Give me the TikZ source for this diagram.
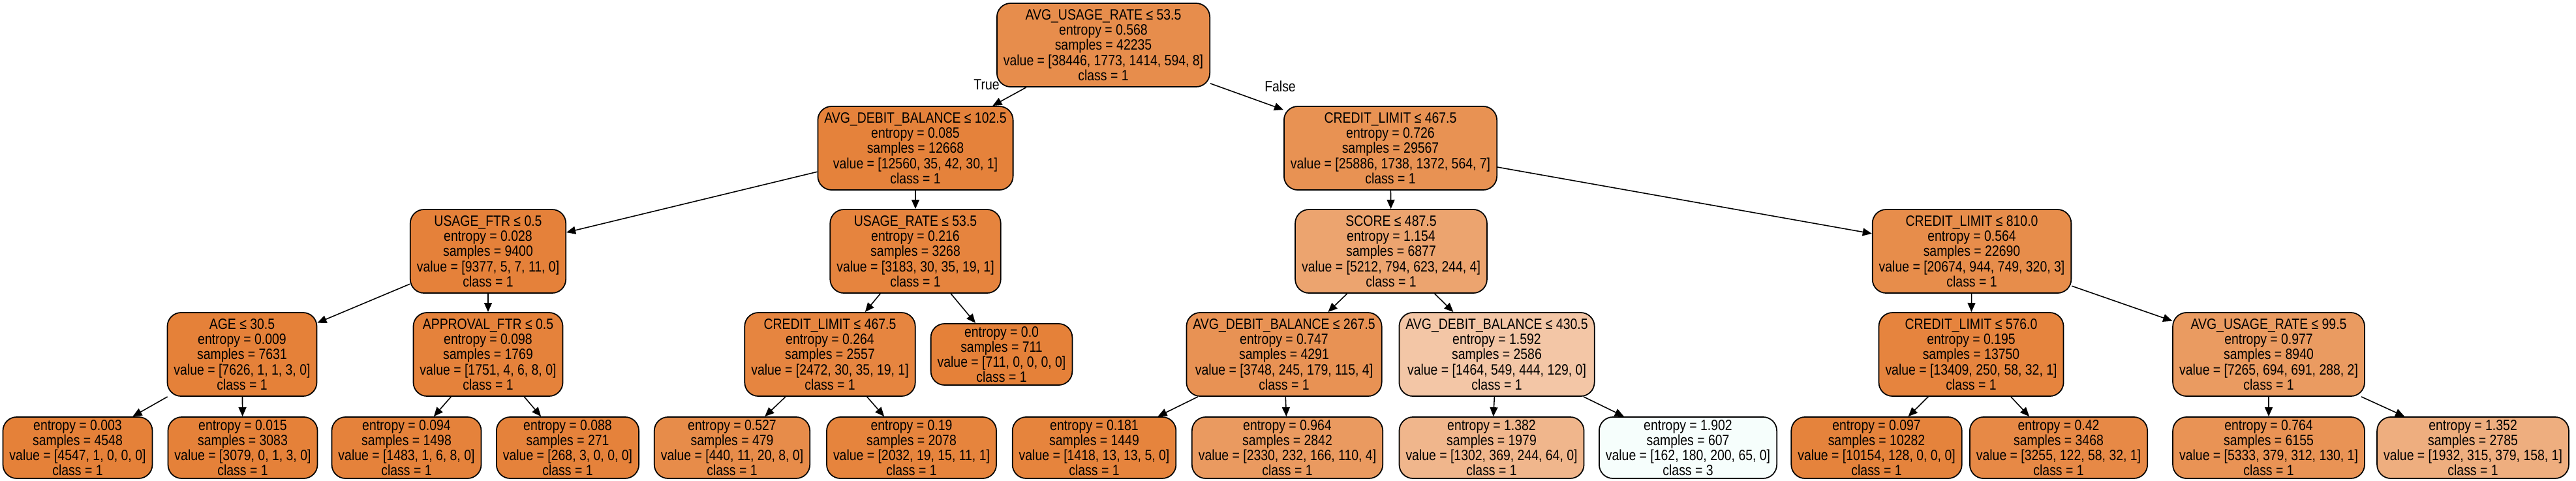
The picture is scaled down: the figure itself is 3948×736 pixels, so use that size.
\documentclass[tikz,border=0pt]{standalone}
\usepackage{fontspec}
\setmainfont[FakeStretch=0.85]{Liberation Sans}
\usetikzlibrary{arrows.meta}

\begin{document}
\begin{tikzpicture}[x=0.01cm, y=-0.01cm, >={Triangle[length=4pt,width=3.4pt]},
    split/.style={draw, rounded corners=6pt, line width=0.5pt, align=center, inner xsep=0.1cm, inner ysep=0pt, minimum height=1.28cm, font=\fontsize{6.5}{6.6}\selectfont},
    leaf/.style={split, minimum height=0.94cm},
    link/.style={->, line width=0.45pt},
    lbl/.style={font=\fontsize{6.5}{6.6}\selectfont}]
    \useasboundingbox (0,0) rectangle (3948,736);
        % rank 0 and 1
        \node[split, fill={rgb,255:red,231;green,141;blue,76}] (0) at (1691,69) {AVG\_USAGE\_RATE ≤ 53.5\\entropy = 0.568\\samples = 42235\\value = [38446, 1773, 1414, 594, 8]\\class = 1};
        \node[split, fill={rgb,255:red,229;green,130;blue,59}] (1) at (1403,227) {AVG\_DEBIT\_BALANCE ≤ 102.5\\entropy = 0.085\\samples = 12668\\value = [12560, 35, 42, 30, 1]\\class = 1};
        \node[split, fill={rgb,255:red,232;green,146;blue,83}] (14) at (2131,227) {CREDIT\_LIMIT ≤ 467.5\\entropy = 0.726\\samples = 29567\\value = [25886, 1738, 1372, 564, 7]\\class = 1};
        % rank 2
        \node[split, fill={rgb,255:red,229;green,129;blue,58}] (2) at (748,385) {USAGE\_FTR ≤ 0.5\\entropy = 0.028\\samples = 9400\\value = [9377, 5, 7, 11, 0]\\class = 1};
        \node[split, fill={rgb,255:red,230;green,132;blue,62}] (9) at (1403,385) {USAGE\_RATE ≤ 53.5\\entropy = 0.216\\samples = 3268\\value = [3183, 30, 35, 19, 1]\\class = 1};
        \node[split, fill={rgb,255:red,236;green,164;blue,111}] (15) at (2132,385) {SCORE ≤ 487.5\\entropy = 1.154\\samples = 6877\\value = [5212, 794, 623, 244, 4]\\class = 1};
        \node[split, fill={rgb,255:red,231;green,141;blue,75}] (22) at (3022,385) {CREDIT\_LIMIT ≤ 810.0\\entropy = 0.564\\samples = 22690\\value = [20674, 944, 749, 320, 3]\\class = 1};
        % rank 3
        \node[split, fill={rgb,255:red,229;green,129;blue,57}] (3) at (371,543) {AGE ≤ 30.5\\entropy = 0.009\\samples = 7631\\value = [7626, 1, 1, 3, 0]\\class = 1};
        \node[split, fill={rgb,255:red,229;green,130;blue,59}] (6) at (748,543) {APPROVAL\_FTR ≤ 0.5\\entropy = 0.098\\samples = 1769\\value = [1751, 4, 6, 8, 0]\\class = 1};
        \node[split, fill={rgb,255:red,230;green,133;blue,64}] (10) at (1272,543) {CREDIT\_LIMIT ≤ 467.5\\entropy = 0.264\\samples = 2557\\value = [2472, 30, 35, 19, 1]\\class = 1};
        \node[leaf, fill={rgb,255:red,229;green,129;blue,57}] (13) at (1535,543) {entropy = 0.0\\samples = 711\\value = [711, 0, 0, 0, 0]\\class = 1};
        \node[split, fill={rgb,255:red,232;green,146;blue,84}] (16) at (1968,543) {AVG\_DEBIT\_BALANCE ≤ 267.5\\entropy = 0.747\\samples = 4291\\value = [3748, 245, 179, 115, 4]\\class = 1};
        \node[split, fill={rgb,255:red,243;green,198;blue,166}] (19) at (2294,543) {AVG\_DEBIT\_BALANCE ≤ 430.5\\entropy = 1.592\\samples = 2586\\value = [1464, 549, 444, 129, 0]\\class = 1};
        \node[split, fill={rgb,255:red,230;green,132;blue,62}] (23) at (3021,543) {CREDIT\_LIMIT ≤ 576.0\\entropy = 0.195\\samples = 13750\\value = [13409, 250, 58, 32, 1]\\class = 1};
        \node[split, fill={rgb,255:red,234;green,155;blue,97}] (26) at (3477,543) {AVG\_USAGE\_RATE ≤ 99.5\\entropy = 0.977\\samples = 8940\\value = [7265, 694, 691, 288, 2]\\class = 1};
        % rank 4, leaves
        \node[leaf, fill={rgb,255:red,229;green,129;blue,57}] (4) at (119,686) {entropy = 0.003\\samples = 4548\\value = [4547, 1, 0, 0, 0]\\class = 1};
        \node[leaf, fill={rgb,255:red,229;green,129;blue,57}] (5) at (372,686) {entropy = 0.015\\samples = 3083\\value = [3079, 0, 1, 3, 0]\\class = 1};
        \node[leaf, fill={rgb,255:red,229;green,130;blue,59}] (7) at (623,686) {entropy = 0.094\\samples = 1498\\value = [1483, 1, 6, 8, 0]\\class = 1};
        \node[leaf, fill={rgb,255:red,229;green,130;blue,59}] (8) at (870,686) {entropy = 0.088\\samples = 271\\value = [268, 3, 0, 0, 0]\\class = 1};
        \node[leaf, fill={rgb,255:red,231;green,140;blue,74}] (11) at (1122,686) {entropy = 0.527\\samples = 479\\value = [440, 11, 20, 8, 0]\\class = 1};
        \node[leaf, fill={rgb,255:red,230;green,132;blue,61}] (12) at (1397,686) {entropy = 0.19\\samples = 2078\\value = [2032, 19, 15, 11, 1]\\class = 1};
        \node[leaf, fill={rgb,255:red,230;green,132;blue,61}] (17) at (1677,686) {entropy = 0.181\\samples = 1449\\value = [1418, 13, 13, 5, 0]\\class = 1};
        \node[leaf, fill={rgb,255:red,234;green,154;blue,96}] (18) at (1973,686) {entropy = 0.964\\samples = 2842\\value = [2330, 232, 166, 110, 4]\\class = 1};
        \node[leaf, fill={rgb,255:red,240;green,182;blue,140}] (20) at (2286,686) {entropy = 1.382\\samples = 1979\\value = [1302, 369, 244, 64, 0]\\class = 1};
        \node[leaf, fill={rgb,255:red,246;green,254;blue,252}] (21) at (2587,686) {entropy = 1.902\\samples = 607\\value = [162, 180, 200, 65, 0]\\class = 3};
        \node[leaf, fill={rgb,255:red,229;green,131;blue,60}] (24) at (2876,686) {entropy = 0.097\\samples = 10282\\value = [10154, 128, 0, 0, 0]\\class = 1};
        \node[leaf, fill={rgb,255:red,231;green,137;blue,70}] (25) at (3155,686) {entropy = 0.42\\samples = 3468\\value = [3255, 122, 58, 32, 1]\\class = 1};
        \node[leaf, fill={rgb,255:red,233;green,147;blue,85}] (27) at (3477,686) {entropy = 0.764\\samples = 6155\\value = [5333, 379, 312, 130, 1]\\class = 1};
        \node[leaf, fill={rgb,255:red,238;green,174;blue,127}] (28) at (3790,686) {entropy = 1.352\\samples = 2785\\value = [1932, 315, 379, 158, 1]\\class = 1};
        % branch labels
        \node[lbl] (t) at (1512,130) {True};
        \node[lbl] (f) at (1962,132) {False};
        % links
        \draw[link] (0) -- (1);
        \draw[link] (0) -- (14);
        \draw[link] (1) -- (2);
        \draw[link] (1) -- (9);
        \draw[link] (2) -- (3);
        \draw[link] (2) -- (6);
        \draw[link] (3) -- (4);
        \draw[link] (3) -- (5);
        \draw[link] (6) -- (7);
        \draw[link] (6) -- (8);
        \draw[link] (9) -- (10);
        \draw[link] (9) -- (13);
        \draw[link] (10) -- (11);
        \draw[link] (10) -- (12);
        \draw[link] (14) -- (15);
        \draw[link] (14) -- (22);
        \draw[link] (15) -- (16);
        \draw[link] (15) -- (19);
        \draw[link] (16) -- (17);
        \draw[link] (16) -- (18);
        \draw[link] (19) -- (20);
        \draw[link] (19) -- (21);
        \draw[link] (22) -- (23);
        \draw[link] (22) -- (26);
        \draw[link] (23) -- (24);
        \draw[link] (23) -- (25);
        \draw[link] (26) -- (27);
        \draw[link] (26) -- (28);
\end{tikzpicture}
\end{document}
